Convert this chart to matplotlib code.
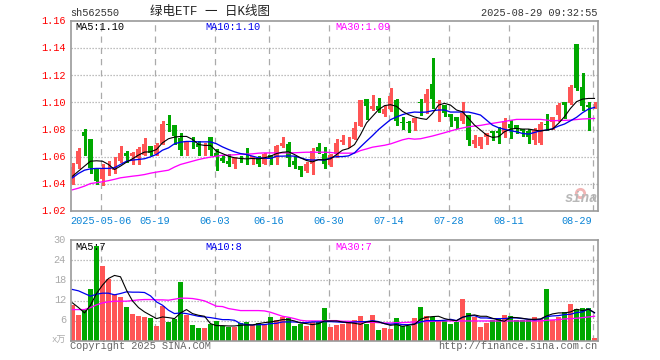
import matplotlib
matplotlib.use('Agg')
import matplotlib.pyplot as plt
from matplotlib.patches import Rectangle

plt.rcParams['font.family'] = ['Liberation Mono', 'Noto Sans CJK SC', 'DejaVu Sans']

# daily candles
opens = [1.0404, 1.0551, 1.0779, 1.0728, 1.0519, 1.0436, 1.0500, 1.0505, 1.0566, 1.0625, 1.0605,
         1.0588, 1.0617, 1.0676, 1.0622, 1.0698, 1.0838, 1.0831, 1.0735, 1.0649, 1.0710, 1.0698,
         1.0676, 1.0747, 1.0625, 1.0593, 1.0573, 1.0544, 1.0591, 1.0591, 1.0585, 1.0595, 1.0551,
         1.0617, 1.0593, 1.0683, 1.0698, 1.0573, 1.0536, 1.0493, 1.0544, 1.0673, 1.0624, 1.0541,
         1.0619, 1.0712, 1.0736, 1.0734, 1.0829, 1.1027, 1.0951, 1.0976, 1.0917, 1.0951, 1.1020,
         1.0856, 1.0852, 1.0849, 1.1001, 1.0998, 1.1135, 1.0998, 1.0980, 1.0914, 1.0890, 1.0865,
         1.0907, 1.0694, 1.0679, 1.0748, 1.0787, 1.0787, 1.0777, 1.0841, 1.0831, 1.0802, 1.0792,
         1.0723, 1.0704, 1.0843, 1.0858, 1.0907, 1.1002, 1.0993, 1.1429, 1.1113, 1.0980, 1.0970]
closes = [1.0522, 1.0644, 1.0752, 1.0515, 1.0426, 1.0515, 1.0505, 1.0509, 1.0625, 1.0603, 1.0625,
          1.0654, 1.0698, 1.0630, 1.0684, 1.0838, 1.0834, 1.0752, 1.0649, 1.0710, 1.0708, 1.0674,
          1.0680, 1.0649, 1.0600, 1.0573, 1.0551, 1.0600, 1.0589, 1.0589, 1.0605, 1.0544, 1.0619,
          1.0588, 1.0683, 1.0702, 1.0590, 1.0541, 1.0507, 1.0549, 1.0644, 1.0644, 1.0551, 1.0615,
          1.0702, 1.0727, 1.0739, 1.0812, 1.1020, 1.0976, 1.0976, 1.0946, 1.0951, 1.1049, 1.0861,
          1.0849, 1.0849, 1.0888, 1.0998, 1.1061, 1.1022, 1.1001, 1.0919, 1.0895, 1.0865, 1.0919,
          1.0723, 1.0723, 1.0743, 1.0772, 1.0777, 1.0777, 1.0860, 1.0811, 1.0802, 1.0787, 1.0748,
          1.0797, 1.0841, 1.0833, 1.0892, 1.0980, 1.0980, 1.1113, 1.1105, 1.0973, 1.0963, 1.0973]
highs = [1.0552, 1.0667, 1.0806, 1.0728, 1.0519, 1.0544, 1.0573, 1.0598, 1.0683, 1.0644, 1.0635,
         1.0674, 1.0740, 1.0676, 1.0703, 1.0860, 1.0911, 1.0831, 1.0777, 1.0720, 1.0747, 1.0713,
         1.0703, 1.0747, 1.0659, 1.0617, 1.0624, 1.0600, 1.0605, 1.0666, 1.0605, 1.0605, 1.0629,
         1.0617, 1.0690, 1.0746, 1.0712, 1.0605, 1.0536, 1.0561, 1.0666, 1.0702, 1.0673, 1.0624,
         1.0732, 1.0763, 1.0746, 1.0859, 1.1020, 1.1027, 1.1056, 1.1034, 1.0976, 1.1103, 1.1024,
         1.0893, 1.0863, 1.0888, 1.1022, 1.1096, 1.1323, 1.1017, 1.0980, 1.0914, 1.0890, 1.1002,
         1.0907, 1.0760, 1.0743, 1.0772, 1.0787, 1.0821, 1.0882, 1.0870, 1.0831, 1.0802, 1.0802,
         1.0809, 1.0858, 1.0914, 1.0892, 1.0998, 1.1002, 1.1127, 1.1429, 1.1213, 1.1000, 1.1000]
lows = [1.0404, 1.0520, 1.0613, 1.0483, 1.0402, 1.0390, 1.0470, 1.0478, 1.0563, 1.0564, 1.0544,
        1.0544, 1.0610, 1.0612, 1.0617, 1.0698, 1.0790, 1.0696, 1.0617, 1.0617, 1.0662, 1.0617,
        1.0617, 1.0617, 1.0507, 1.0561, 1.0532, 1.0515, 1.0561, 1.0544, 1.0544, 1.0532, 1.0544,
        1.0544, 1.0544, 1.0673, 1.0532, 1.0519, 1.0458, 1.0488, 1.0471, 1.0629, 1.0515, 1.0532,
        1.0600, 1.0698, 1.0673, 1.0732, 1.0829, 1.0878, 1.0946, 1.0929, 1.0902, 1.0934, 1.0837,
        1.0807, 1.0780, 1.0800, 1.0907, 1.0919, 1.0956, 1.0865, 1.0900, 1.0826, 1.0809, 1.0850,
        1.0686, 1.0674, 1.0667, 1.0694, 1.0723, 1.0704, 1.0743, 1.0740, 1.0777, 1.0753, 1.0704,
        1.0694, 1.0694, 1.0797, 1.0802, 1.0865, 1.0882, 1.0988, 1.1091, 1.0944, 1.0797, 1.0956]

price_ma5 = [1.0458, 1.0495, 1.0532, 1.0568, 1.0571, 1.0568, 1.0544, 1.0507, 1.0532, 1.0561, 1.0586,
             1.0613, 1.0635, 1.0637, 1.0654, 1.0703, 1.0733, 1.0745, 1.0750, 1.0750, 1.0728, 1.0691,
             1.0684, 1.0684, 1.0642, 1.0624, 1.0605, 1.0593, 1.0588, 1.0585, 1.0588, 1.0585, 1.0593,
             1.0605, 1.0624, 1.0634, 1.0637, 1.0617, 1.0593, 1.0573, 1.0563, 1.0580, 1.0578, 1.0585,
             1.0617, 1.0649, 1.0661, 1.0690, 1.0763, 1.0849, 1.0898, 1.0946, 1.0976, 1.0983, 1.0971,
             1.0934, 1.0910, 1.0893, 1.0882, 1.0875, 1.0919, 1.0980, 1.0993, 1.0980, 1.0944, 1.0931,
             1.0882, 1.0833, 1.0797, 1.0760, 1.0743, 1.0748, 1.0784, 1.0804, 1.0809, 1.0804, 1.0804,
             1.0797, 1.0789, 1.0797, 1.0804, 1.0846, 1.0895, 1.0956, 1.1005, 1.1024, 1.1029, 1.1029]
price_ma10 = [1.0446, 1.0478, 1.0502, 1.0512, 1.0515, 1.0515, 1.0515, 1.0520, 1.0544, 1.0568, 1.0576,
              1.0581, 1.0586, 1.0600, 1.0618, 1.0649, 1.0666, 1.0696, 1.0708, 1.0713, 1.0713, 1.0710,
              1.0710, 1.0710, 1.0696, 1.0673, 1.0654, 1.0637, 1.0624, 1.0617, 1.0605, 1.0593, 1.0590,
              1.0588, 1.0605, 1.0605, 1.0607, 1.0605, 1.0593, 1.0580, 1.0576, 1.0578, 1.0576, 1.0593,
              1.0602, 1.0602, 1.0607, 1.0629, 1.0673, 1.0715, 1.0756, 1.0800, 1.0837, 1.0873, 1.0893,
              1.0910, 1.0922, 1.0929, 1.0927, 1.0929, 1.0939, 1.0944, 1.0944, 1.0929, 1.0929, 1.0929,
              1.0929, 1.0919, 1.0907, 1.0870, 1.0833, 1.0814, 1.0802, 1.0792, 1.0784, 1.0772, 1.0767,
              1.0779, 1.0792, 1.0797, 1.0806, 1.0826, 1.0841, 1.0865, 1.0890, 1.0924, 1.0951, 1.0963]
price_ma30 = [1.0358, 1.0370, 1.0385, 1.0404, 1.0410, 1.0417, 1.0425, 1.0435, 1.0446, 1.0452, 1.0458,
              1.0463, 1.0470, 1.0480, 1.0488, 1.0495, 1.0502, 1.0525, 1.0544, 1.0556, 1.0568, 1.0580,
              1.0590, 1.0598, 1.0605, 1.0612, 1.0613, 1.0615, 1.0620, 1.0620, 1.0622, 1.0627, 1.0629,
              1.0629, 1.0629, 1.0629, 1.0629, 1.0630, 1.0632, 1.0634, 1.0634, 1.0634, 1.0634, 1.0632,
              1.0627, 1.0627, 1.0627, 1.0627, 1.0646, 1.0658, 1.0671, 1.0678, 1.0685, 1.0695, 1.0710,
              1.0725, 1.0735, 1.0730, 1.0733, 1.0743, 1.0753, 1.0765, 1.0777, 1.0790, 1.0802, 1.0812,
              1.0821, 1.0826, 1.0831, 1.0839, 1.0846, 1.0853, 1.0860, 1.0868, 1.0875, 1.0875, 1.0875,
              1.0875, 1.0875, 1.0870, 1.0865, 1.0867, 1.0868, 1.0870, 1.0874, 1.0878, 1.0880, 1.0882]

volumes = [10.6, 7.6, 9.1, 15.4, 28.3, 22.3, 18.4, 14.1, 13.0, 10.0, 7.9, 7.3, 7.0, 6.7, 4.3, 10.5,
           5.5, 6.4, 17.5, 7.6, 4.6, 3.7, 3.7, 4.9, 5.9, 4.4, 4.0, 4.0, 5.4, 5.7, 4.6, 5.4,
           4.9, 7.0, 6.1, 7.2, 6.7, 4.3, 4.9, 4.3, 5.5, 5.5, 9.7, 4.0, 4.6, 4.9, 5.5, 6.1,
           7.3, 4.9, 7.6, 3.1, 3.7, 3.6, 6.7, 4.3, 4.5, 6.7, 10.1, 7.4, 7.0, 6.2, 6.0, 5.0,
           5.7, 12.5, 8.3, 7.2, 4.1, 5.3, 6.2, 6.8, 7.7, 7.4, 6.2, 6.2, 6.2, 7.1, 6.5, 15.5,
           6.2, 7.1, 8.6, 11.0, 9.5, 9.8, 9.8, 0.8]
vol_ma5 = [11.3, 9.9, 8.3, 10.6, 14.1, 16.6, 18.6, 19.5, 19.1, 15.1, 11.9, 9.9, 8.6, 7.6, 6.6, 7.1,
           6.9, 6.6, 8.3, 9.3, 8.1, 7.6, 7.3, 5.1, 4.5, 4.5, 4.4, 4.4, 4.6, 4.7, 4.7, 5.1,
           5.4, 5.6, 5.9, 6.3, 6.3, 5.9, 5.3, 5.1, 4.8, 5.1, 5.9, 5.9, 5.9, 5.6, 5.4, 5.2,
           4.9, 5.6, 5.8, 5.6, 5.1, 4.6, 4.8, 4.3, 4.6, 4.9, 6.4, 7.0, 7.2, 7.3, 6.6, 6.2,
           6.0, 7.0, 7.5, 7.7, 7.3, 7.3, 6.7, 6.2, 5.8, 7.0, 6.9, 6.7, 6.4, 6.4, 6.5, 7.4,
           8.0, 8.3, 8.3, 8.6, 9.4, 9.0, 9.4, 8.4]
vol_ma10 = [15.3, 14.9, 14.1, 13.3, 13.9, 14.2, 14.2, 13.7, 14.1, 14.6, 14.5, 14.5, 14.4, 13.4, 11.6, 10.6,
            9.1, 8.1, 8.3, 8.1, 7.7, 7.3, 7.1, 6.9, 6.6, 6.3, 6.3, 6.1, 5.1, 4.8, 4.7, 4.8,
            4.8, 5.1, 5.2, 5.6, 5.6, 5.6, 5.4, 5.4, 5.6, 5.6, 5.7, 5.7, 5.6, 5.5, 5.4, 5.6,
            5.7, 5.7, 6.0, 5.7, 5.1, 4.9, 5.1, 4.8, 4.8, 5.0, 5.6, 6.0, 6.0, 6.0, 6.1, 6.4,
            6.0, 7.0, 7.4, 7.5, 6.8, 6.8, 6.6, 6.6, 6.6, 6.8, 6.8, 6.6, 6.4, 6.2, 6.4, 7.2,
            7.4, 7.5, 7.8, 7.9, 8.4, 8.6, 9.5, 8.3]
vol_ma30 = [9.3, 9.3, 9.3, 9.9, 10.7, 11.3, 11.6, 11.8, 11.8, 11.8, 12.0, 12.2, 12.3, 12.3, 12.2, 12.2,
            12.1, 12.4, 12.7, 12.7, 12.6, 12.3, 11.9, 11.1, 10.3, 10.2, 9.6, 9.3, 9.0, 9.0, 9.0, 9.0,
            8.9, 8.5, 7.9, 7.3, 7.0, 6.6, 6.1, 5.9, 5.9, 5.9, 5.9, 6.0, 6.0, 5.8, 5.8, 5.7,
            5.6, 5.5, 5.5, 5.4, 5.3, 5.3, 5.4, 5.4, 5.5, 5.6, 5.7, 5.7, 5.8, 5.9, 5.9, 5.9,
            5.9, 5.9, 5.9, 5.9, 5.9, 5.9, 5.9, 5.9, 5.9, 5.9, 5.9, 5.9, 5.9, 5.9, 5.9, 6.1,
            6.2, 6.3, 6.5, 6.6, 6.7, 6.9, 7.1, 7.3]

date_index = [5, 14, 24, 33, 43, 53, 63, 73, 87]
date_labels = ['2025-05-06', '05-19', '06-03', '06-16', '06-30', '07-14', '07-28', '08-11', '08-29']
price_ticks = [1.02, 1.04, 1.06, 1.08, 1.10, 1.12, 1.14, 1.16]
vol_ticks = [6, 12, 18, 24, 30]

W, H = 660, 360
RED = '#ff5555'
GREEN = '#00a800'
GRAY = '#999999'
GRID = '#aaaaaa'
X0, X1 = -1 / 3, 87.5   # index range that fills the plot width, 6 px per day
BODY = 0.84


def make_axes(fig, top, bottom):
    ax = fig.add_axes([70.5 / W, 1 - bottom / H, 527 / W, (bottom - top) / H])
    ax.set_xlim(X0, X1)
    ax.set_xticks([])
    ax.set_yticks([])
    for side in ax.spines.values():
        side.set_color(GRAY)
        side.set_linewidth(1.2)
    for i in date_index:
        ax.axvline(i - 1 / 3, color=GRID, lw=0.9, dashes=(5, 4), zorder=1)
    return ax


def plot_price(ax):
    ax.set_ylim(1.02, 1.16)
    for y in price_ticks[1:-1]:
        ax.axhline(y, color=GRID, lw=0.9, dashes=(1, 1.4), zorder=1)
    for i in range(len(opens)):
        up = closes[i] >= opens[i]
        col = RED if up else GREEN
        ax.vlines(i, lows[i], highs[i], color=col, lw=0.75, zorder=2, antialiased=False)
        bottom = min(opens[i], closes[i])
        height = max(abs(closes[i] - opens[i]), 0.0004)
        ax.add_patch(Rectangle((i - BODY / 2, bottom), BODY, height, fc=col, ec='none', zorder=2, antialiased=False))
    ax.plot(price_ma30, color='#ff00ff', lw=0.95, zorder=3)
    ax.plot(price_ma10, color='#0000ee', lw=0.95, zorder=4)
    ax.plot(price_ma5, color='black', lw=0.8, zorder=5)


def plot_volume(ax):
    ax.set_ylim(0, 30)
    for y in vol_ticks[:-1]:
        ax.axhline(y, color=GRID, lw=0.9, dashes=(1, 1.4), zorder=1)
    colors = [RED if c >= o else GREEN for o, c in zip(opens, closes)]
    ax.bar(range(len(volumes)), volumes, width=BODY, color=colors, zorder=2, antialiased=False)
    ax.plot(vol_ma30, color='#ff00ff', lw=0.95, zorder=3)
    ax.plot(vol_ma10, color='#0000ee', lw=0.9, zorder=4)
    ax.plot(vol_ma5, color='black', lw=0.8, zorder=5)


def put(fig, x, y, s, color='black', size=7.4, ha='left', **kw):
    fig.text(x / W, 1 - y / H, s, color=color, fontsize=size, ha=ha, va='center', **kw)


def main():
    fig = plt.figure(figsize=(6.6, 3.6), dpi=100)
    price_ax = make_axes(fig, 20.7, 211.3)
    vol_ax = make_axes(fig, 240.3, 340.7)
    plot_price(price_ax)
    plot_volume(vol_ax)

    # header
    put(fig, 70, 13, 'sh562550', color='#333333')
    put(fig, 150, 12, '绿电ETF 一 日K线图', color='#222222', size=9)
    put(fig, 597, 13, '2025-08-29 09:32:55', color='#333333', ha='right')

    # indicator labels
    put(fig, 75, 27, 'MA5:1.10')
    put(fig, 205, 27, 'MA10:1.10', color='#0000ee')
    put(fig, 335, 27, 'MA30:1.09', color='#ff00ff')
    put(fig, 75, 247, 'MA5:7')
    put(fig, 205, 247, 'MA10:8', color='#0000ee')
    put(fig, 335, 247, 'MA30:7', color='#ff00ff')

    # axis labels
    for p, y in zip(price_ticks, [211.3, 184.3, 157.3, 130.2, 102.8, 75.6, 48.4, 21]):
        put(fig, 66, y, '%.2f' % p, color='#ff0000', ha='right')
    for v, y in zip([30, 24, 18, 12, 6], [240.3, 260.3, 280.3, 300.3, 320.3]):
        put(fig, 66, y, str(v), color=GRID, ha='right')
    put(fig, 66, 340, 'x万', color=GRID, ha='right', size=6.5)
    for i, label in zip(date_index, date_labels):
        x = 70.5 + 6 * (i - 1 / 3 - X0)
        if label == '08-29':
            put(fig, x, 221, label, color='#0a84d6', ha='right')
        else:
            put(fig, x, 221, label, color='#0a84d6', ha='center')

    # footer
    put(fig, 70, 346, 'Copyright 2025 SINA.COM', color='#666666')
    put(fig, 597, 346, 'http://finance.sina.com.cn', color='#666666', ha='right')

    # sina logo
    put(fig, 565, 198, 'sina', color='#b8b8b8', size=10, weight='bold', style='italic')
    price_ax.plot([84.6], [1.0335], marker='o', ms=6, mfc='none', mec='#f2b5b5', mew=2, zorder=1)

    fig.savefig('out.png', dpi=100)


if __name__ == "__main__":
    main()
